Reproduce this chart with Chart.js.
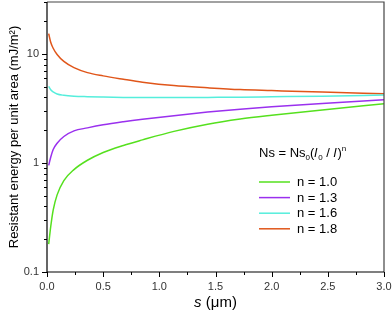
<!DOCTYPE html>
<html>
<head>
<meta charset="utf-8">
<script src="https://cdn.jsdelivr.net/npm/chart.js@4"></script>
<style>
  html, body { margin: 0; padding: 0; background: #fff; }
  #wrap { width: 392px; height: 312px; }
</style>
</head>
<body>
<div id="wrap"><canvas id="energyChart" width="392" height="312"></canvas></div>
<script>
// Values
const sValues = [0.015, 0.033, 0.055, 0.09, 0.15, 0.24, 0.36, 0.5, 0.68, 0.85, 1.13, 1.43, 1.72, 2.0, 2.45, 3.0];
const seriesLabels = ['n = 1.0', 'n = 1.3', 'n = 1.6', 'n = 1.8'];
const n10 = [0.18, 0.26, 0.37, 0.51, 0.69, 0.87, 1.06, 1.25, 1.45, 1.63, 1.95, 2.27, 2.53, 2.74, 3.07, 3.49];
const n13 = [0.95, 1.13, 1.33, 1.52, 1.75, 1.97, 2.10, 2.24, 2.39, 2.52, 2.72, 2.93, 3.12, 3.28, 3.52, 3.80];
const n16 = [5.06, 4.70, 4.50, 4.30, 4.18, 4.10, 4.06, 4.03, 4.00, 3.98, 3.98, 4.00, 4.02, 4.05, 4.10, 4.20];
const n18 = [15.4, 12.8, 11.3, 9.9, 8.55, 7.5, 6.75, 6.3, 5.87, 5.52, 5.13, 4.90, 4.72, 4.62, 4.47, 4.32];
const colors = ['#55e01e', '#9a30ee', '#55eedc', '#e0561a'];
const yLabelled = [0.1, 1, 10];
const xLabelled = [0, 0.5, 1, 1.5, 2, 2.5, 3];

const FONT = '"Liberation Sans", Arial, sans-serif';

const seriesData = [n10, n13, n16, n18];
const datasets = seriesData.map((vals, i) => ({
  label: seriesLabels[i],
  data: vals.map((v, j) => ({ x: sValues[j], y: v })),
  borderColor: colors[i],
  backgroundColor: colors[i],
  borderWidth: 1.5,
  pointRadius: 0,
  fill: false,
  cubicInterpolationMode: 'monotone'
}));

function isLabelled(list, v) {
  return list.some(t => Math.abs(t - v) < 1e-6);
}

// draws frame, outward tick marks, axis titles and the legend
const decorations = {
  id: 'decorations',
  afterDraw(chart) {
    const ctx = chart.ctx;
    const a = chart.chartArea;
    const xs = chart.scales.x, ys = chart.scales.y;
    ctx.save();

    // frame
    ctx.strokeStyle = '#444';
    ctx.lineWidth = 1.2;
    ctx.beginPath();
    ctx.moveTo(a.left, a.top); ctx.lineTo(a.right, a.top); ctx.lineTo(a.right, a.bottom);
    ctx.stroke();
    ctx.strokeStyle = '#000';
    ctx.beginPath();
    ctx.moveTo(a.left, a.top); ctx.lineTo(a.left, a.bottom); ctx.lineTo(a.right, a.bottom);
    ctx.stroke();

    // tick marks
    ctx.lineWidth = 1;
    ctx.beginPath();
    xs.ticks.forEach(t => {
      const px = Math.round(xs.getPixelForValue(t.value)) + 0.5;
      const len = isLabelled(xLabelled, t.value) ? 5 : 3;
      ctx.moveTo(px, a.bottom); ctx.lineTo(px, a.bottom + len);
    });
    ys.ticks.forEach(t => {
      const py = Math.round(ys.getPixelForValue(t.value)) + 0.5;
      const len = isLabelled(yLabelled, t.value) ? 5 : 3;
      ctx.moveTo(a.left, py); ctx.lineTo(a.left - len, py);
    });
    ctx.stroke();

    // y title
    ctx.fillStyle = '#000';
    ctx.font = '13px ' + FONT;
    ctx.save();
    ctx.translate(18, (a.top + a.bottom) / 2);
    ctx.rotate(-Math.PI / 2);
    ctx.textAlign = 'center';
    ctx.textBaseline = 'alphabetic';
    ctx.fillText('Resistant energy per unit area (mJ/m²)', 0, 0);
    ctx.restore();

    // x title with italic s
    ctx.textBaseline = 'alphabetic';
    ctx.textAlign = 'left';
    const cx = (a.left + a.right) / 2;
    ctx.font = 'italic 15px ' + FONT;
    const w1 = ctx.measureText('s').width;
    ctx.font = '15px ' + FONT;
    const w2 = ctx.measureText(' (μm)').width;
    let x0 = cx - (w1 + w2) / 2;
    ctx.font = 'italic 15px ' + FONT;
    ctx.fillText('s', x0, 307);
    ctx.font = '15px ' + FONT;
    ctx.fillText(' (μm)', x0 + w1, 307);

    // legend formula: Ns = Ns0(l0 / l)^n
    const parts = [
      ['Ns = Ns', '13px', 0], ['0', '8px', 3], ['(', '13px', 0],
      ['l', 'italic 13px', 0], ['0', '8px', 3], [' / ', '13px', 0],
      ['l', 'italic 13px', 0], [')', '13px', 0], ['n', '8px', -6]
    ];
    let fx = 259;
    parts.forEach(p => {
      ctx.font = p[1] + ' ' + FONT;
      ctx.fillText(p[0], fx, 156.5 + p[2]);
      fx += ctx.measureText(p[0]).width + (p[0] === 'l' ? 1 : 0);
    });

    // legend entries
    chart.data.datasets.forEach((ds, i) => {
      const y = 182 + i * 15.6;
      ctx.strokeStyle = ds.borderColor;
      ctx.lineWidth = 1.5;
      ctx.beginPath();
      ctx.moveTo(259, y); ctx.lineTo(290, y);
      ctx.stroke();
      ctx.fillStyle = '#000';
      ctx.font = '13px ' + FONT;
      ctx.textBaseline = 'middle';
      ctx.fillText(ds.label, 297, y + 0.5);
    });
    ctx.restore();
  }
};

const ctx = document.getElementById('energyChart').getContext('2d');
const energyChart = new Chart(ctx, {
  type: 'line',
  data: { datasets: datasets },
  options: {
    responsive: false,
    animation: false,
    layout: { padding: { left: 0, right: 8, top: 2, bottom: 0 } },
    plugins: {
      legend: { display: false },
      tooltip: { enabled: false }
    },
    scales: {
      x: {
        type: 'linear',
        min: 0,
        max: 3,
        border: { display: false },
        grid: { display: false, drawTicks: false },
        afterFit: scale => {
          scale.height = 40;
          scale.paddingLeft = 0;
          scale.paddingRight = 0;
        },
        ticks: {
          stepSize: 0.25,
          padding: 8,
          autoSkip: false,
          maxRotation: 0,
          color: '#333',
          font: { family: FONT, size: 11 },
          callback: v => isLabelled(xLabelled, v) ? v.toFixed(1) : ''
        }
      },
      y: {
        type: 'logarithmic',
        min: 0.1,
        max: 30,
        border: { display: false },
        grid: { display: false, drawTicks: false },
        afterFit: scale => {
          scale.width = 47;
          scale.paddingTop = 0;
          scale.paddingBottom = 0;
        },
        afterBuildTicks: scale => {
          const ticks = [];
          yLabelled.forEach(base => {
            for (let k = 1; k <= 9; k++) {
              const v = +(base * k).toPrecision(3);
              if (v <= 30) ticks.push({ value: v });
            }
          });
          scale.ticks = ticks;
        },
        ticks: {
          padding: 8,
          autoSkip: false,
          color: '#333',
          font: { family: FONT, size: 11 },
          callback: v => isLabelled(yLabelled, v) ? String(v) : ''
        }
      }
    }
  },
  plugins: [decorations]
});
</script>
</body>
</html>
